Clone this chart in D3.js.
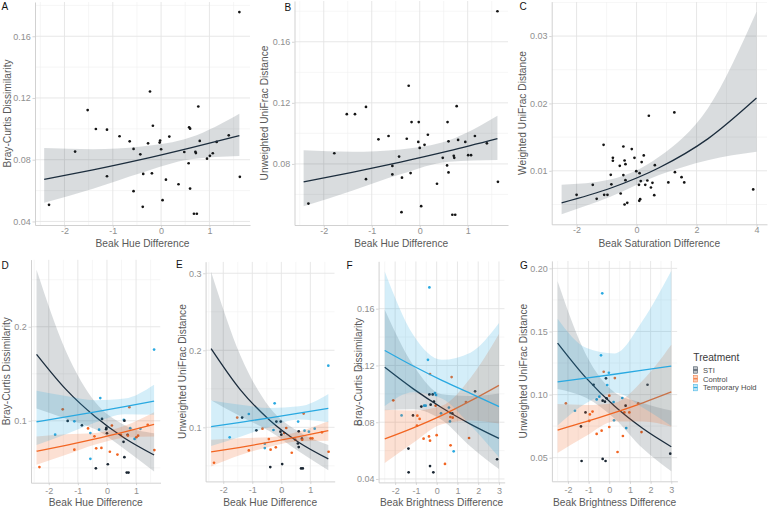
<!DOCTYPE html>
<html>
<head>
<meta charset="utf-8">
<script src="https://cdn.jsdelivr.net/npm/d3@7"></script>
<style>
  body { margin: 0; background: #fff; }
  svg { display: block; font-family: "Liberation Sans", Arial, sans-serif; }
</style>
</head>
<body>
<svg id="fig" width="769" height="509"></svg>
<script>
// ---- data ----
// beak hue difference panels (A, B, D, E)
const hueDiff = [1.62,-0.23,-1.52,0.77,-1.35,-1.12,-0.17,0.58,0.60,-0.86,
  -0.65,-0.02,-0.03,0.17,-0.27,-0.57,0.00,0.80,-1.78,-0.43,
  0.48,0.71,0.72,0.95,1.01,1.07,1.40,0.57,-1.12,-0.37,
  -0.19,0.10,0.36,-0.57,0.60,0.03,-0.38,-2.32,0.68,0.74,1.63,1.15];
const brayHue = [0.1757,0.1242,0.1122,0.1145,0.0999,0.0995,0.1020,0.1010,0.1001,0.0952,
  0.0919,0.0924,0.0911,0.0950,0.0906,0.0870,0.0868,0.0922,0.0853,0.0835,
  0.0850,0.0851,0.0843,0.0807,0.0825,0.0842,0.0958,0.0777,0.0693,0.0708,
  0.0712,0.0671,0.0641,0.0596,0.0613,0.0538,0.0495,0.0508,0.0450,0.0450,0.0689,0.0915];
const unifracHue = [0.180,0.1312,0.1126,0.1178,0.1126,0.1173,0.1074,0.1074,0.0948,0.0961,
  0.0983,0.1074,0.0944,0.0991,0.0965,0.0787,0.0905,0.0957,0.0870,0.0848,
  0.0840,0.0853,0.0840,0.0944,0.0857,0.0857,0.0935,0.0790,0.0700,0.0710,
  0.0740,0.0925,0.0670,0.0731,0.0744,0.0523,0.0484,0.0540,0.0467,0.0467,0.0683,0.0983];
const groupHue = ["T","T","C","C","S","T","S","T","S","S",
  "C","S","S","C","T","T","S","T","T","C",
  "C","S","C","T","C","C","C","S","C","C",
  "C","C","C","T","S","S","S","C","S","S","C","T"];

// beak saturation difference (C)
const satDiff = [-2.0,-1.46,-1.33,-1.1,-1.08,-0.97,-0.86,-0.84,-0.79,-0.79,-0.56,-0.53,-0.44,-0.44,
  -0.4,-0.37,-0.37,-0.4,-0.31,-0.16,-0.07,-0.01,0.1,0.08,0.09,0.12,0.14,0.17,0.24,0.29,0.36,
  0.41,0.48,0.53,0.59,0.61,1.06,1.26,1.28,1.5,1.59,3.89];
const weightedSat = [0.00644,0.00792,0.00584,0.01386,0.00644,0.00644,0.0094,0.0080,0.01193,0.01149,
  0.01074,0.00663,0.01361,0.00936,0.01153,0.01099,0.00861,0.0050,0.00525,0.01322,0.01193,0.00995,
  0.00965,0.00792,0.00554,0.00579,0.00847,0.01129,0.01228,0.00792,0.00856,0.01817,0.00752,0.00822,
  0.00639,0.01084,0.00827,0.01866,0.0098,0.00906,0.00827,0.00723];

// beak brightness difference (F)
const brightF = [-0.35,-0.42,-0.32,0.72,-0.35,-0.19,-0.08,-0.03,-0.13,-0.05,-0.29,-0.60,-0.53,-0.74,
  -2.09,1.85,1.41,0.59,0.21,0.64,0.75,0.66,0.77,-1.69,-1.14,-0.93,-0.82,-0.95,-0.37,0.00,
  -0.63,-0.32,1.56,0.67,0.82,-1.36,2.91,0.40,-0.32,-1.35,-0.16,0.66];
const brayBright = [0.175,0.124,0.114,0.1118,0.0996,0.0996,0.1006,0.0992,0.0945,0.0917,0.0924,0.0917,
  0.0917,0.0910,0.0954,0.1018,0.0942,0.0903,0.0863,0.0806,0.0863,0.0837,0.0832,0.0848,0.0848,0.0846,
  0.0823,0.0776,0.0700,0.0709,0.0684,0.0670,0.0689,0.0637,0.0595,0.0614,0.0539,0.0506,0.0491,
  0.0447,0.0447,0.0865];
const groupBrightF = ["T","T","C","C","S","S","T","T","S","C","S","T","T","S","C","S","C","T","T","T",
  "S","C","C","T","S","C","C","C","C","C","C","C","C","C","T","S","S","C","S","S","S","T"];

// beak brightness difference (G)
const brightG = [-0.34,-0.40,-0.27,-0.02,-0.16,0.27,-0.10,-0.76,1.85,0.00,-0.48,-0.61,-0.32,-0.21,
  -0.13,0.21,0.63,-2.10,-1.66,-1.15,-0.81,-0.94,0.79,0.73,0.97,-1.37,-0.97,0.23,0.00,0.82,1.56,
  -0.37,-0.61,0.66,0.40,2.95,-1.34,-0.32,-0.18,1.40];
const unifracBright = [0.1802,0.1311,0.1181,0.1173,0.1129,0.1131,0.1076,0.1078,0.1078,0.0991,0.0983,
  0.0962,0.0952,0.0944,0.0970,0.0941,0.0973,0.0931,0.0872,0.0859,0.0865,0.0843,0.0912,0.0859,0.0859,
  0.0748,0.0791,0.0796,0.0743,0.0735,0.0703,0.0714,0.0688,0.0672,0.0545,0.0532,0.0474,0.0490,0.0474,0.0931];
const groupBrightG = ["T","T","C","T","S","C","T","S","S","C","T","T","S","S","S","T","T","C","T","S",
  "C","C","S","C","C","S","C","T","C","T","C","C","C","C","C","S","S","S","S","C"];

// fitted curves with 95% bands, read at a few x positions
const hueFitX = [-2.42, -1.41, -0.4, 0.61, 1.62];
const satFitX = [-2.5, -0.875, 0.75, 2.375, 4.0];
const brightFitX = [-2.5, -1.125, 0.25, 1.625, 3.0];

const fitA = { mid: [0.0672,0.0734,0.0802,0.0877,0.0956], lo: [0.0521,0.0612,0.0716,0.0803,0.0824], hi: [0.0876,0.0868,0.0885,0.0945,0.1098] };
const fitB = { mid: [0.0683,0.0745,0.0812,0.0885,0.0965], lo: [0.0522,0.0625,0.0733,0.0815,0.0825], hi: [0.0889,0.0880,0.0895,0.0955,0.1115] };
const fitC = { mid: [0.00525,0.00741,0.01045,0.01474,0.0208], lo: [0.00356,0.00614,0.00936,0.01158,0.01282], hi: [0.00792,0.00871,0.01208,0.01926,0.0336] };

const fitD = {
  S: { mid: [0.1707,0.1334,0.1043,0.0815,0.0637], lo: [0.113,0.1023,0.0909,0.0697,0.0461], hi: [0.2606,0.174,0.1197,0.0954,0.0869] },
  C: { mid: [0.0677,0.0739,0.0807,0.0882,0.0961], lo: [0.0532,0.0638,0.0747,0.0821,0.0833], hi: [0.0833,0.0857,0.0871,0.0948,0.1092] },
  T: { mid: [0.0990,0.1041,0.1094,0.1150,0.1210], lo: [0.0744,0.0858,0.0982,0.1070,0.1064], hi: [0.1319,0.1263,0.1218,0.1236,0.1383] }
};
const fitE = {
  S: { mid: [0.2022,0.1487,0.1093,0.0804,0.0591], lo: [0.1353,0.1144,0.0950,0.0687,0.0443], hi: [0.302,0.1933,0.1257,0.0941,0.0772] },
  C: { mid: [0.0680,0.0741,0.0807,0.0879,0.0957], lo: [0.0493,0.0640,0.0748,0.0818,0.0827], hi: [0.0840,0.0859,0.0871,0.0945,0.1078] },
  T: { mid: [0.1010,0.1065,0.1123,0.1184,0.1247], lo: [0.0757,0.0878,0.1008,0.1102,0.1065], hi: [0.1347,0.1292,0.1251,0.1272,0.1434] }
};
const fitF = {
  S: { mid: [0.1187,0.1035,0.0902,0.0787,0.0686], lo: [0.0885,0.0892,0.0816,0.0629,0.0470], hi: [0.1593,0.1201,0.0997,0.0985,0.1002] },
  C: { mid: [0.0682,0.0760,0.0848,0.0950,0.1060], lo: [0.0513,0.0655,0.0785,0.0812,0.0791], hi: [0.0888,0.0882,0.0916,0.1112,0.1422] },
  T: { mid: [0.1306,0.1196,0.1095,0.1003,0.0910], lo: [0.0915,0.1012,0.0967,0.0778,0.0553], hi: [0.1863,0.1414,0.1240,0.1290,0.1499] }
};
const fitG = {
  S: { mid: [0.1408,0.1132,0.0909,0.0731,0.0587], lo: [0.1045,0.0974,0.0811,0.0572,0.0392], hi: [0.1897,0.1316,0.1019,0.0934,0.0873] },
  C: { mid: [0.0719,0.0785,0.0857,0.0935,0.1021], lo: [0.0537,0.0671,0.0786,0.0786,0.0746], hi: [0.0925,0.0918,0.0934,0.1113,0.1395] },
  T: { mid: [0.1100,0.1130,0.1161,0.1193,0.1226], lo: [0.0756,0.0932,0.1017,0.0896,0.0752], hi: [0.1601,0.1370,0.1325,0.1588,0.1980] }
};

const groupOrder = ["S", "C", "T"];
const groupNames = { S: "STI", C: "Control", T: "Temporary Hold" };

// ---- styling ----
const lineCol = { N: "#1c2d3d", S: "#1c2d3d", C: "#f26522", T: "#29a9e1" };
const pointCol = { N: "#141414", S: "#1a2632", C: "#f26522", T: "#29a9e1" };
const fillAlpha = { N: 0.17, S: 0.17, C: 0.2, T: 0.2 };

const svg = d3.select("#fig");
svg.append("rect").attr("width", 769).attr("height", 509).attr("fill", "#fff");

const zip = (xs, ys, gs) => xs.map((v, i) => ({ x: v, y: ys[i], g: gs ? gs[i] : "N" }));
const single = (fit, xs) => [{ g: "N", xs: xs, fit: fit }];
const grouped = (fits, xs) => groupOrder.map(k => ({ g: k, xs: xs, fit: fits[k] }));

const hueTicks = { xTicks: [-2, -1, 0, 1], xMinor: [-2.5, -1.5, -0.5, 0.5, 1.5] };
const brTicks = { xTicks: [-2, -1, 0, 1, 2, 3], xMinor: [-2.5, -1.5, -0.5, 0.5, 1.5, 2.5] };

const panels = [
  { label: "A", lx: 1.5, ly: 10, l: 35, r: 250, t: 2, b: 225, xDomain: [-2.61, 1.84], yDomain: [0.0377, 0.1822],
    ...hueTicks, yTicks: [0.04, 0.08, 0.12, 0.16], yMinor: [0.06, 0.10, 0.14, 0.18], yFmt: ".2f",
    xTitle: "Beak Hue Difference", yTitle: "Bray-Curtis Dissimilarity", yTitleX: 10.5, labDy: 8.6, titleY: 247.3,
    points: zip(hueDiff, brayHue), fits: single(fitA, hueFitX) },
  { label: "B", lx: 284.5, ly: 10.5, l: 294.5, r: 508, t: 1, b: 225, xDomain: [-2.61, 1.84], yDomain: [0.040, 0.1867],
    ...hueTicks, yTicks: [0.08, 0.12, 0.16], yMinor: [0.06, 0.10, 0.14, 0.18], yFmt: ".2f",
    xTitle: "Beak Hue Difference", yTitle: "Unweighted UniFrac Distance", yTitleX: 267.5, labDy: 8.6, titleY: 247.3,
    points: zip(hueDiff, unifracHue), fits: single(fitB, hueFitX) },
  { label: "C", lx: 519.5, ly: 10, l: 551.7, r: 767, t: 1.7, b: 224.3, xDomain: [-2.83, 4.35], yDomain: [0.00206, 0.0351],
    xTicks: [-2, 0, 2, 4], xMinor: [-1, 1, 3], yTicks: [0.01, 0.02, 0.03], yMinor: [0.005, 0.015, 0.025, 0.035], yFmt: ".2f",
    xTitle: "Beak Saturation Difference", yTitle: "Weighted UniFrac Distance", yTitleX: 526, labDy: 8.6, titleY: 247.3,
    points: zip(satDiff, weightedSat), fits: single(fitC, satFitX) },
  { label: "D", lx: 1.5, ly: 268.5, l: 31, r: 160.5, t: 259.6, b: 482.7, xDomain: [-2.61, 1.84], yDomain: [0.0342, 0.2714],
    ...hueTicks, yTicks: [0.1, 0.2], yMinor: [0.05, 0.15, 0.25], yFmt: ".1f",
    xTitle: "Beak Hue Difference", yTitle: "Bray-Curtis Dissimilarity", yTitleX: 9.8, labDy: 11.4, titleY: 505.8,
    points: zip(hueDiff, brayHue, groupHue), fits: grouped(fitD, hueFitX) },
  { label: "E", lx: 176, ly: 268, l: 205.6, r: 334.7, t: 261.7, b: 481.4, xDomain: [-2.61, 1.84], yDomain: [0.0298, 0.315],
    ...hueTicks, yTicks: [0.1, 0.2, 0.3], yMinor: [0.05, 0.15, 0.25], yFmt: ".1f",
    xTitle: "Beak Hue Difference", yTitle: "Unweighted UniFrac Distance", yTitleX: 186, labDy: 11.4, titleY: 505.8,
    points: zip(hueDiff, unifracHue, groupHue), fits: grouped(fitE, hueFitX) },
  { label: "F", lx: 346.5, ly: 268.5, l: 378.6, r: 504.7, t: 261.3, b: 482.4, xDomain: [-2.796, 3.276], yDomain: [0.0376, 0.1934],
    ...brTicks, yTicks: [0.04, 0.08, 0.12, 0.16], yMinor: [0.06, 0.10, 0.14, 0.18], yFmt: ".2f",
    xTitle: "Beak Brightness Difference", yTitle: "Bray-Curtis Dissimilarity", yTitleX: 361.5, labDy: 11.4, titleY: 505.8,
    points: zip(brightF, brayBright, groupBrightF), fits: grouped(fitF, brightFitX) },
  { label: "G", lx: 520, ly: 268.5, l: 551.9, r: 677.4, t: 260.9, b: 481.3, xDomain: [-2.776, 3.296], yDomain: [0.0313, 0.2059],
    ...brTicks, yTicks: [0.05, 0.10, 0.15, 0.20], yMinor: [0.075, 0.125, 0.175], yFmt: ".2f",
    xTitle: "Beak Brightness Difference", yTitle: "Unweighted UniFrac Distance", yTitleX: 526.5, labDy: 11.4, titleY: 505.8,
    points: zip(brightG, unifracBright, groupBrightG), fits: grouped(fitG, brightFitX) }
];

const xFmt = d => (d < 0 ? "-" + Math.abs(d) : String(d));

panels.forEach((p, pi) => {
  const x = d3.scaleLinear().domain(p.xDomain).range([p.l, p.r]);
  const y = d3.scaleLinear().domain(p.yDomain).range([p.b, p.t]);
  const g = svg.append("g");

  g.append("clipPath").attr("id", "clip" + pi)
    .append("rect").attr("x", p.l).attr("y", p.t).attr("width", p.r - p.l).attr("height", p.b - p.t);

  // grid
  const grid = g.append("g").attr("clip-path", `url(#clip${pi})`);
  grid.selectAll(".vmin").data(p.xMinor).enter().append("line")
    .attr("x1", d => x(d)).attr("x2", d => x(d)).attr("y1", p.t).attr("y2", p.b)
    .attr("stroke", "#f0f0f0").attr("stroke-width", 0.6);
  grid.selectAll(".hmin").data(p.yMinor).enter().append("line")
    .attr("y1", d => y(d)).attr("y2", d => y(d)).attr("x1", p.l).attr("x2", p.r)
    .attr("stroke", "#f0f0f0").attr("stroke-width", 0.6);
  grid.selectAll(".vmaj").data(p.xTicks).enter().append("line")
    .attr("x1", d => x(d)).attr("x2", d => x(d)).attr("y1", p.t).attr("y2", p.b)
    .attr("stroke", "#e4e4e4").attr("stroke-width", 0.9);
  grid.selectAll(".hmaj").data(p.yTicks).enter().append("line")
    .attr("y1", d => y(d)).attr("y2", d => y(d)).attr("x1", p.l).attr("x2", p.r)
    .attr("stroke", "#e4e4e4").attr("stroke-width", 0.9);

  // axes
  const xa = g.append("g").attr("transform", `translate(0,${p.b})`)
    .call(d3.axisBottom(x).tickValues(p.xTicks).tickFormat(xFmt).tickSize(2.5).tickSizeOuter(0));
  const ya = g.append("g").attr("transform", `translate(${p.l},0)`)
    .call(d3.axisLeft(y).tickValues(p.yTicks).tickFormat(d3.format(p.yFmt)).tickSize(2.5).tickSizeOuter(0));
  [xa, ya].forEach(a => {
    a.select(".domain").attr("stroke", "#cccccc").attr("stroke-width", 0.9);
    a.selectAll(".tick line").attr("stroke", "#cccccc").attr("stroke-width", 0.8);
    a.selectAll("text").attr("fill", "#8f8f8f").style("font-size", "9px")
      .style("font-family", "'Liberation Sans', Arial, sans-serif");
  });
  xa.selectAll("text").attr("y", p.labDy).attr("dy", null);
  ya.selectAll("text").attr("x", -4.2);

  // data layers: points, then ribbon + line per group
  const plot = g.append("g").attr("clip-path", `url(#clip${pi})`);
  plot.selectAll("circle").data(p.points).enter().append("circle")
    .attr("cx", d => x(d.x)).attr("cy", d => y(d.y)).attr("r", 1.35)
    .attr("fill", d => pointCol[d.g]);

  p.fits.forEach(f => {
    const rows = f.xs.map((v, i) => ({ x: v, mid: f.fit.mid[i], lo: f.fit.lo[i], hi: f.fit.hi[i] }));
    plot.append("path").datum(rows)
      .attr("d", d3.area().x(d => x(d.x)).y0(d => y(d.lo)).y1(d => y(d.hi)).curve(d3.curveMonotoneX))
      .attr("fill", lineCol[f.g]).attr("fill-opacity", fillAlpha[f.g]);
    plot.append("path").datum(rows)
      .attr("d", d3.line().x(d => x(d.x)).y(d => y(d.mid)).curve(d3.curveMonotoneX))
      .attr("fill", "none").attr("stroke", lineCol[f.g]).attr("stroke-width", 1.3);
  });

  // titles
  g.append("text").attr("x", (p.l + p.r) / 2).attr("y", p.titleY)
    .attr("text-anchor", "middle").attr("fill", "#595959").style("font-size", "10.2px")
    .text(p.xTitle);
  g.append("text").attr("transform", `translate(${p.yTitleX},${(p.t + p.b) / 2}) rotate(-90)`)
    .attr("text-anchor", "middle").attr("fill", "#595959").style("font-size", "10.2px")
    .text(p.yTitle);
  g.append("text").attr("x", p.lx).attr("y", p.ly)
    .attr("fill", "#111").style("font-size", "10px").text(p.label);
});

// legend
const leg = svg.append("g");
leg.append("text").attr("x", 693.3).attr("y", 360.5).attr("fill", "#3a3a3a")
  .style("font-size", "10.2px").text("Treatment");
const legY = d3.scalePoint().domain(groupOrder).range([370, 387.6]);
groupOrder.forEach(k => {
  const cy = legY(k);
  leg.append("rect").attr("x", 693.6).attr("y", cy - 3.2).attr("width", 3.8).attr("height", 6.4)
    .attr("fill", lineCol[k]).attr("fill-opacity", fillAlpha[k] + 0.1)
    .attr("stroke", lineCol[k]).attr("stroke-width", 0.6).attr("stroke-opacity", 0.8);
  leg.append("line").attr("x1", 693.6).attr("x2", 697.4).attr("y1", cy).attr("y2", cy)
    .attr("stroke", lineCol[k]).attr("stroke-width", 1);
  leg.append("text").attr("x", 703).attr("y", cy + 2.8).attr("fill", "#4a4a4a")
    .style("font-size", "7.6px").text(groupNames[k]);
});
</script>
</body>
</html>
